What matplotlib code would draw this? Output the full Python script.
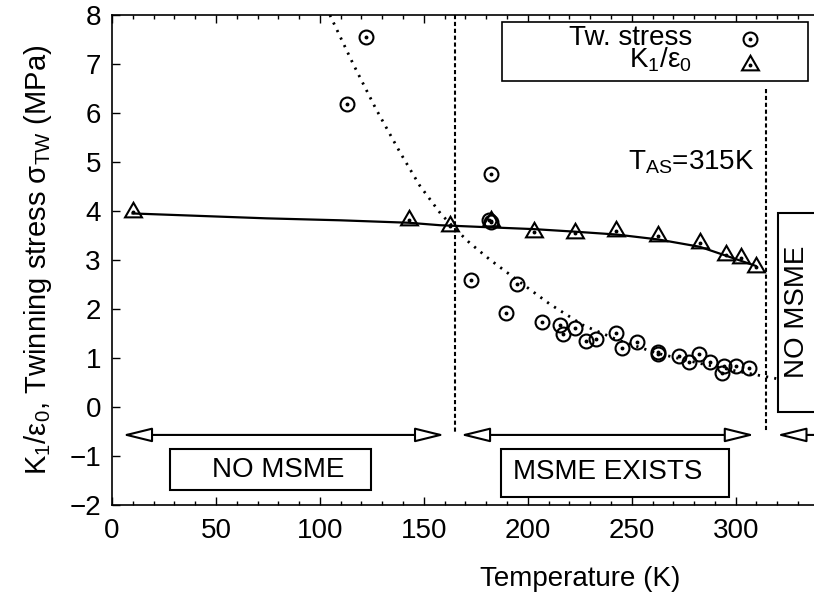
import matplotlib
matplotlib.use("Agg")
import matplotlib.pyplot as plt
from matplotlib.patches import Rectangle
from matplotlib.ticker import MultipleLocator, FuncFormatter

plt.rcParams['font.family'] = ['Liberation Sans', 'DejaVu Sans']
plt.rcParams['mathtext.fontset'] = 'custom'
plt.rcParams['mathtext.rm'] = 'Liberation Sans'
plt.rcParams['mathtext.it'] = 'Liberation Sans'
plt.rcParams['mathtext.default'] = 'regular'

# --- data ---
# twinning stress (circles)
tw_T = [112.8, 122.4, 172.9, 182.5, 181.5, 182.5, 189.7, 194.6, 207.0, 215.7,
        216.7, 222.6, 228.2, 232.7, 242.6, 245.5, 252.6, 262.6, 262.8, 272.7,
        277.6, 282.4, 287.8, 294.2, 293.6, 300.3, 306.4]
tw_s = [6.18, 7.56, 2.59, 4.75, 3.82, 3.78, 1.92, 2.52, 1.74, 1.67,
        1.49, 1.61, 1.35, 1.39, 1.52, 1.20, 1.33, 1.13, 1.08, 1.05,
        0.91, 1.08, 0.91, 0.84, 0.70, 0.84, 0.79]

# K1/eps0 (triangles)
k_T = [9.9, 142.8, 162.5, 182.5, 203.0, 222.6, 242.6, 262.6, 282.7, 295.2, 302.4, 309.6]
k_v = [3.97, 3.82, 3.70, 3.80, 3.57, 3.55, 3.60, 3.48, 3.34, 3.10, 3.05, 2.86]

# solid guide through triangles
fit_T = [9.9, 74.4, 110.0, 142.8, 157.7, 180.0, 203.0, 222.0, 242.6, 262.6, 282.7, 295.2, 309.6]
fit_v = [3.95, 3.85, 3.81, 3.76, 3.71, 3.67, 3.63, 3.58, 3.52, 3.42, 3.27, 3.09, 2.88]

# dotted guide through twinning stress
dot_T = [104.8, 116.0, 127.0, 138.5, 148.0, 158.0, 164.0, 172.0, 182.0, 194.6,
         210.6, 226.6, 242.6, 261.9, 282.7, 301.9, 319.5]
dot_v = [8.0, 7.0, 6.08, 5.2, 4.52, 3.95, 3.68, 3.35, 3.0, 2.6,
         2.1, 1.67, 1.38, 1.1, 0.89, 0.72, 0.58]

T_lim1 = 165.0
T_AS = 314.5

fig = plt.figure(figsize=(8.14, 5.99), dpi=100)
px_per_K = 2.079
x_max = 450
# the original panel is wider than the picture, it is cut at the right edge
ax = fig.add_axes([112 / 814, 94 / 599, x_max * px_per_K / 814, 490 / 599])
ax.set_xlim(0, x_max)
ax.set_ylim(-2, 8)

# guides
ax.plot(fit_T, fit_v, color='black', lw=1.6, zorder=2)
ax.plot(dot_T, dot_v, color='black', lw=2.0, ls=(0, (0.8, 2.2)), zorder=2)

# data markers with centre dots
ax.plot(tw_T, tw_s, ls='none', marker='o', ms=10, mfc='none', mec='black', mew=1.5, zorder=4)
ax.plot(tw_T, tw_s, ls='none', marker='o', ms=1.8, color='black', zorder=4)
ax.plot(k_T, k_v, ls='none', marker=(3, 0, 0), ms=14, mfc='none', mec='black', mew=1.5, zorder=4)
ax.plot(k_T, k_v, ls='none', marker='o', ms=1.8, color='black', zorder=4)

# region borders
dash = (0, (2, 1.3))
ax.plot([T_lim1, T_lim1], [8, -0.5], color='black', lw=1.5, ls=dash, zorder=3)
ax.plot([T_AS, T_AS], [6.5, -0.5], color='black', lw=1.5, ls=dash, zorder=3)

# arrows
arrow_y = -0.57
aprops = dict(arrowstyle='<|-|>,head_length=1.3,head_width=0.32', mutation_scale=14,
              fc='white', ec='black', lw=1.5, shrinkA=0, shrinkB=0)
for a, b in [(5.0, 160.0), (167.6, 309.0), (319.8, 430.0)]:
    ax.annotate('', xy=(b, arrow_y), xytext=(a, arrow_y), arrowprops=aprops, zorder=5)

# boxes
ax.add_patch(Rectangle((27.9, -1.69), 96.5, 0.83, fc='white', ec='black', lw=1.5, zorder=5))
ax.text(80, -1.29, 'NO MSME', fontsize=20, ha='center', va='center', zorder=6)
ax.add_patch(Rectangle((187.0, -1.84), 109.8, 0.98, fc='white', ec='black', lw=1.5, zorder=5))
ax.text(238.6, -1.33, 'MSME EXISTS', fontsize=20, ha='center', va='center', zorder=6)
ax.add_patch(Rectangle((320.2, -0.10), 40, 4.06, fc='white', ec='black', lw=1.5, zorder=5))
ax.text(329.4, 1.94, 'NO MSME', fontsize=20, ha='center', va='center', rotation=90, zorder=6)

ax.text(309.2, 4.85, r'T$_{AS}$=315K', fontsize=20, ha='right', va='baseline')

# legend drawn gnuplot style (text right aligned, marker after)
ax.add_patch(Rectangle((187.4, 6.66), 147.2, 1.19, fc='white', ec='black', lw=1.2, zorder=6))
ax.text(279.1, 7.38, 'Tw. stress', fontsize=20, ha='right', va='baseline', zorder=7)
ax.text(279.1, 6.93, r'K$_1$/ε$_0$', fontsize=20, ha='right', va='baseline', zorder=7)
ax.plot([306.9], [7.52], marker='o', ms=10, mfc='none', mec='black', mew=1.5, zorder=7)
ax.plot([306.9], [7.52], marker='o', ms=1.8, color='black', zorder=7)
ax.plot([306.9], [6.98], marker=(3, 0, 0), ms=14, mfc='none', mec='black', mew=1.5, zorder=7)
ax.plot([306.9], [6.98], marker='o', ms=1.8, color='black', zorder=7)

# axes styling
ax.xaxis.set_major_locator(MultipleLocator(50))
ax.xaxis.set_minor_locator(MultipleLocator(10))
# ticks past the cut edge carry no label
ax.xaxis.set_major_formatter(FuncFormatter(lambda v, p: f'{v:.0f}' if v <= 300 else ''))
ax.yaxis.set_major_locator(MultipleLocator(1))
ax.tick_params(which='both', direction='in', top=True, right=True, labelsize=20)
ax.tick_params(axis='x', which='major', length=6, width=1, pad=9)
ax.tick_params(axis='x', which='minor', length=3, width=1)
ax.tick_params(axis='y', which='major', length=6, width=1, pad=8)
for s in ax.spines.values():
    s.set_linewidth(1.2)

ax.set_xlabel('Temperature (K)', fontsize=20, labelpad=16)
ax.set_ylabel(r'K$_1$/ε$_0$, Twinning stress σ$_{TW}$ (MPa)', fontsize=21, labelpad=11)

fig.savefig('out.png', dpi=100, facecolor='white')
